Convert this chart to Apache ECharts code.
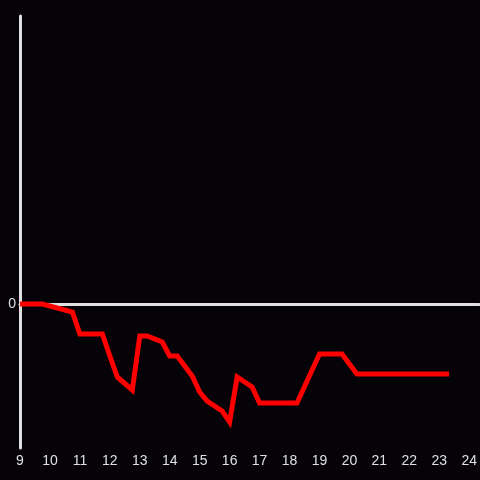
<!DOCTYPE html>
<html>
<head>
<meta charset="utf-8">
<script src="https://cdn.jsdelivr.net/npm/echarts@6/dist/echarts.min.js"></script>
<style>
  html, body { margin: 0; padding: 0; background: #050307; }
  #chart { width: 480px; height: 480px; }
</style>
</head>
<body>
<div id="chart"></div>
<script>
const hours = [9, 9.75, 10.75, 11, 11.75, 12, 12.25, 12.75, 13, 13.25, 13.75, 14, 14.25,
  14.75, 15, 15.25, 15.75, 16, 16.25, 16.75, 17, 18.25, 19, 19.75, 20.25, 23.33];
const values = [0, 0, -0.8, -3.0, -3.0, -5.2, -7.3, -8.6, -3.2, -3.2, -3.8, -5.2, -5.2,
  -7.2, -8.8, -9.7, -10.7, -11.8, -7.3, -8.3, -9.9, -9.9, -5.0, -5.0, -7.0, -7.0];
const yLabels = [0];

const axisColor = '#e0e0e0';

const chart = echarts.init(document.getElementById('chart'));
const option = {
  backgroundColor: '#050307',
  animation: false,
  grid: { left: 20, right: 0, top: 16, bottom: 32 },
  xAxis: [
    {
      type: 'value',
      min: 9,
      max: 24.33,
      interval: 1,
      axisLine: { show: true, onZero: true, lineStyle: { color: axisColor, width: 3 } },
      axisTick: { show: false },
      axisLabel: { show: false },
      splitLine: { show: false }
    },
    {
      type: 'value',
      position: 'bottom',
      min: 9,
      max: 24.33,
      interval: 1,
      axisLine: { show: false, onZero: false },
      axisTick: { show: false },
      splitLine: { show: false },
      axisLabel: {
        color: axisColor,
        fontSize: 14,
        margin: 6,
        showMaxLabel: false
      }
    }
  ],
  yAxis: {
    type: 'value',
    min: -14.4,
    max: 28.8,
    axisLine: { show: true, lineStyle: { color: axisColor, width: 3 } },
    axisTick: { show: false },
    splitLine: { show: false },
    axisLabel: {
      color: axisColor,
      fontSize: 14,
      margin: 4,
      customValues: yLabels
    }
  },
  series: [
    {
      type: 'line',
      xAxisIndex: 0,
      data: hours.map((h, i) => [h, values[i]]),
      symbol: 'none',
      z: 5,
      lineStyle: { color: '#ff0000', width: 5, join: 'miter' }
    }
  ]
};
chart.setOption(option);
</script>
</body>
</html>
